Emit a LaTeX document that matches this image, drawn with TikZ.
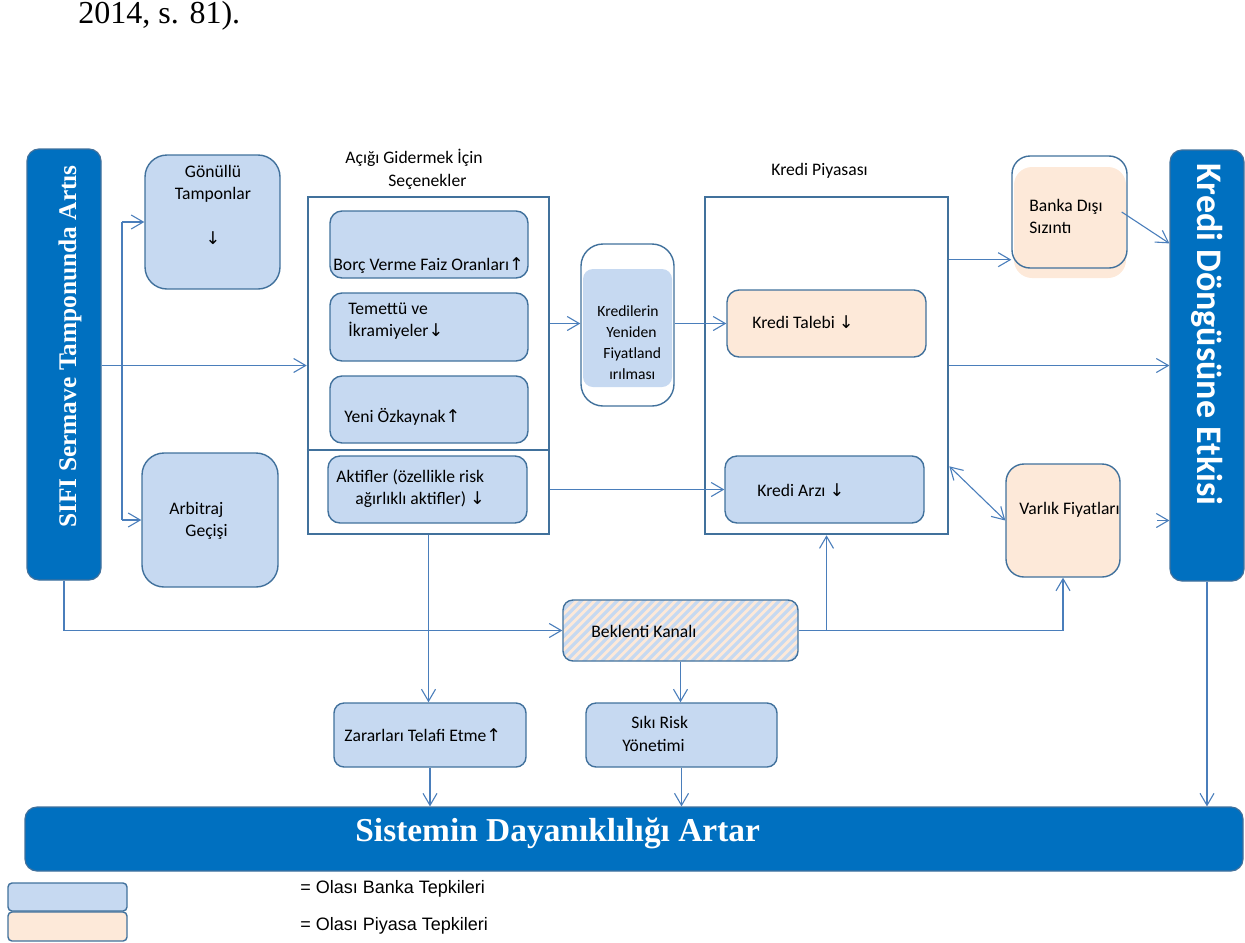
\documentclass[tikz,border=0pt]{standalone}
\usepackage{fontspec}
\setmainfont{Carlito}
\newfontfamily\serifb{Liberation Serif}
\newfontfamily\symf{DejaVu Sans}
\newfontfamily\arialf{Liberation Sans}
\usetikzlibrary{arrows.meta,fit,calc}
\definecolor{dblue}{HTML}{0070C0}
\definecolor{lblue}{HTML}{C6D9F1}
\definecolor{peach}{HTML}{FDE9D9}
\definecolor{bord}{HTML}{41719C}
\definecolor{lnc}{HTML}{4A7EBB}
\newcommand\uarr{{\symf ↑}}
\newcommand\darr{{\symf ↓}}
\tikzset{
  box/.style={draw=bord, line width=0.7pt, inner sep=0pt},
  bluebox/.style={box, fill=lblue, rounded corners=6pt},
  peachbox/.style={box, fill=peach, rounded corners=6pt},
  frame/.style={draw=bord, line width=1.3pt, inner sep=0pt},
  bigblue/.style={fill=dblue, draw=bord, line width=0.6pt, rounded corners=6pt, inner sep=0pt},
  plain/.style={draw=lnc, line width=0.55pt},
  conn/.style={plain, -{Straight Barb[length=6pt,width=7pt]}},
  conn2/.style={plain, {Straight Barb[length=6pt,width=7pt]}-{Straight Barb[length=6pt,width=7pt]}},
  txt/.style={inner sep=0pt, font=\fontsize{8.8}{10}\selectfont, anchor=base west},
  stxt/.style={txt, font=\fontsize{7.8}{9}\selectfont},
}
\begin{document}
\begin{tikzpicture}[x=0.5pt,y=-0.5pt]
\useasboundingbox (0,0) rectangle (1245,942);
% citation fragment
\node[inner sep=0pt, anchor=base west, font=\serifb\fontsize{16}{18}\selectfont] (cite) at (78,24) {2014, s. 81).};

% left big box
\node[bigblue, fit={(27,149)(101,580)}] (sifi) {};
\node[rotate=90, anchor=base west, text=white, inner sep=0pt, font=\serifb\bfseries\fontsize{12.7}{14}\selectfont] (sifit) at (76,528) {SIFI Sermave Tamponunda Artıs};

% Gonullu / Arbitraj
\node[bluebox, rounded corners=11pt, fit={(145,155)(280,289)}] (gon) {};
\node[txt, anchor=base] (gon1) at (213,177) {Gönüllü};
\node[txt, anchor=base] (gon2) at (213,199) {Tamponlar};
\node[txt, anchor=base] (gon3) at (213,244) {\darr};
\node[bluebox, rounded corners=11pt, fit={(142,453)(278,587)}] (arb) {};
\node[txt] (arb1) at (169,514) {Arbitraj};
\node[txt] (arb2) at (185,536) {Geçişi};

% options
\node[txt] (opt1) at (345,163) {Açığı Gidermek İçin};
\node[txt] (opt2) at (388,186) {Seçenekler};
\node[frame, fit={(308,197)(549,534)}] (opt) {};
\coordinate (div) at (0,450);
\draw[frame] (opt.west |- div) -- (opt.east |- div);
\node[bluebox, fit={(330,211)(528,278)}] (bor) {};
\node[txt] (bor1) at (333,270) {Borç Verme Faiz Oranları\uarr};
\node[bluebox, fit={(330,293)(528,361)}] (tem) {};
\node[txt] (tem1) at (348,314) {Temettü ve};
\node[txt] (tem2) at (348,336) {İkramiyeler\darr};
\node[bluebox, fit={(330,376)(528,443)}] (yen) {};
\node[txt] (yen1) at (344,422) {Yeni Özkaynak\uarr};
\node[bluebox, fit={(328,456)(527,523)}] (akt) {};
\node[txt] (akt1) at (336,482) {Aktifler (özellikle risk};
\node[txt] (akt2) at (355,504) {ağırlıklı aktifler) \darr};

% repricing
\node[box, fill=white, rounded corners=11pt, fit={(581,244)(674,406)}] (kre) {};
\fill[lblue, rounded corners=5pt] (583,269) rectangle (672,387);
\node[stxt] (kre1) at (597,316) {Kredilerin};
\node[stxt] (kre2) at (606,337) {Yeniden};
\node[stxt] (kre3) at (603,358) {Fiyatland};
\node[stxt] (kre4) at (609,379) {ırılması};

% credit market
\node[txt] (kp1) at (771,175) {Kredi Piyasası};
\node[frame, fit={(705,197)(948,534)}] (kp) {};
\node[peachbox, fit={(727,290)(926,357)}] (tal) {};
\node[txt] (tal1) at (752,328) {Kredi Talebi \darr};
\node[bluebox, fit={(725,456)(924,523)}] (arz) {};
\node[txt] (arz1) at (757,496) {Kredi Arzı \darr};

% non-bank leakage
\fill[peach, rounded corners=9pt] (1014,167) rectangle (1126,278);
\node[box, rounded corners=9pt, fit={(1012,156)(1127,268)}] (ban) {};
\node[txt] (ban1) at (1029,211) {Banka Dışı};
\node[txt] (ban2) at (1029,233) {Sızıntı};

% asset prices
\node[peachbox, rounded corners=9pt, fit={(1006,464)(1120,577)}] (var) {};
\node[txt] (var1) at (1019,514) {Varlık Fiyatları};

% right big box
\node[bigblue, fit={(1170,150)(1244,581)}] (kdg) {};
\node[rotate=-90, anchor=base west, text=white, inner sep=0pt, font=\bfseries\fontsize{18}{20}\selectfont] (kdgt) at (1197,163) {Kredi Döngüsüne Etkisi};

% expectations channel (hatched)
\begin{scope}
\clip[rounded corners=5pt] (563,600) rectangle (798,661);
\fill[peach] (563,600) rectangle (798,661);
\foreach \k in {0,...,35} { \draw[lblue, line width=1.6pt] ({500+\k*9},664) -- ({567+\k*9},597); }
\end{scope}
\node[box, rounded corners=5pt, fit={(563,600)(798,661)}] (bek) {};
\node[txt] (bek1) at (591,637) {Beklenti Kanalı};

% bottom boxes
\node[bluebox, rounded corners=5pt, fit={(334,703)(526,767)}] (zar) {};
\node[txt] (zar1) at (344,741) {Zararları Telafi Etme\uarr};
\node[bluebox, rounded corners=5pt, fit={(586,703)(777,767)}] (sik) {};
\node[txt] (sik1) at (631,728) {Sıkı Risk};
\node[txt] (sik2) at (622,751) {Yönetimi};

\node[bigblue, fit={(25,807)(1243,871)}] (sis) {};
\node[anchor=base west, text=white, inner sep=0pt, font=\serifb\bfseries\fontsize{16.7}{20}\selectfont] (sist) at (355,841) {Sistemin Dayanıklılığı Artar};

% legend
\node[bluebox, rounded corners=2pt, fit={(8,883)(127,911)}] (leg1) {};
\node[peachbox, rounded corners=2pt, fit={(8,912)(127,941)}] (leg2) {};
\node[inner sep=0pt, anchor=base west, font=\arialf\fontsize{9}{10}\selectfont] (leg1t) at (300,893) {= Olası Banka Tepkileri};
\node[inner sep=0pt, anchor=base west, font=\arialf\fontsize{9}{10}\selectfont] (leg2t) at (300,930) {= Olası Piyasa Tepkileri};

% connectors
\draw[conn] (sifi.east |- opt.west) -- (opt.west);
\coordinate (br) at (122,0);
\draw[plain] (br |- gon.west) -- (br |- arb.west);
\draw[conn] (br |- gon.west) -- (gon.west);
\draw[conn] (br |- arb.west) -- (arb.west);
\draw[conn] (opt.east |- tal.west) -- (kre.west |- tal.west);
\draw[conn] (kre.east |- tal.west) -- (tal.west);
\draw[conn] (opt.east |- akt.east) -- (arz.west |- akt.east);
\coordinate (banin) at ([yshift=4.5pt]ban.south west);
\draw[conn] (kp.east |- banin) -- (banin);
\coordinate (banout) at ([xshift=-3pt]ban.east);
\coordinate (kdgin1) at ([yshift=-47pt]kdg.north west);
\draw[conn] (banout) -- (kdgin1);
\draw[conn] (kp.east) -- (kp.east -| kdg.west);
\coordinate (kpva) at ([yshift=34.5pt]kp.south east);
\draw[conn2] (kpva) -- (var.west);
\coordinate (kdgin2) at ([xshift=-6pt]kdg.west |- var.east);
\draw[conn] (kdgin2) -- (kdg.west |- var.east);
\draw[conn] (kdg.south) -- (kdg.south |- sis.north);
\draw[conn] (sifi.south) |- (bek.west);
\draw[conn] (bek.east) -| (var.south);
\draw[conn] (bek.east) -| (kp.south);
\draw[conn] (opt.south) -- (opt.south |- zar.north);
\draw[conn] (bek.south) -- (bek.south |- sik.north);
\draw[conn] (zar.south) -- (zar.south |- sis.north);
\draw[conn] (sik.south) -- (sik.south |- sis.north);
\end{tikzpicture}
\end{document}
